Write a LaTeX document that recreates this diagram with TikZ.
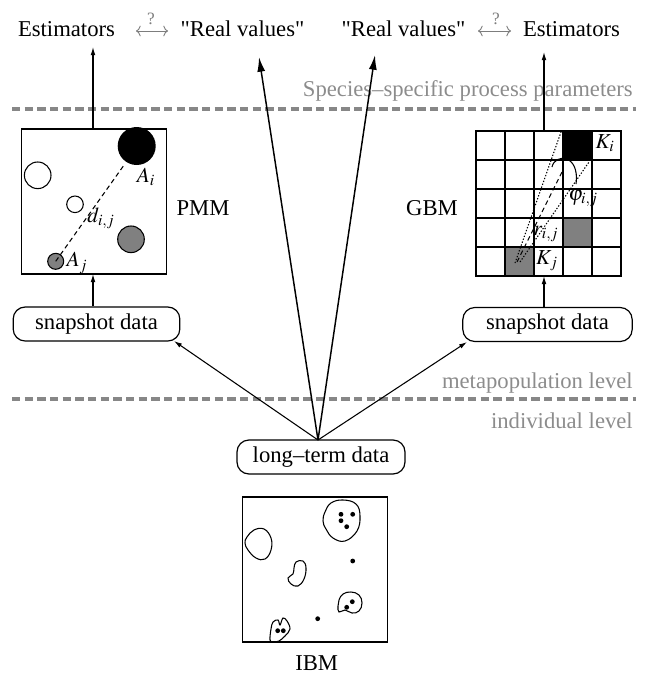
\documentclass[tikz,border=0pt]{standalone}
\usepackage{mathptmx}
\usepackage[no-math]{fontspec}
\setmainfont{Liberation Serif}
\newfontfamily\qfont{Liberation Serif}[Ligatures=ResetAll]
\usetikzlibrary{arrows.meta,calc}
\definecolor{sepgray}{RGB}{135,135,135}
\definecolor{txtgray}{RGB}{140,140,140}
\definecolor{cellgray}{RGB}{128,128,128}
\definecolor{qgray}{RGB}{125,125,125}
\newcommand{\sq}{{\qfont"}}
\begin{document}
\begin{tikzpicture}[x=0.75pt,y=-0.75pt,
  lbl/.style={font=\fontsize{17}{20}\selectfont, inner sep=0pt},
  glbl/.style={lbl, text=txtgray},
  sep/.style={draw=sepgray, line width=2.3pt, dash pattern=on 6.3pt off 3.2pt},
  frame/.style={draw, line width=0.9pt, minimum width=108.75pt, minimum height=108.75pt, inner sep=0pt},
  databox/.style={draw, rounded corners=9pt, line width=0.9pt, minimum height=25.5pt, inner sep=0pt, font=\fontsize{17}{20}\selectfont},
  thinarrow/.style={line width=0.8pt, -{Latex[length=6pt,width=3.5pt]}},
  bigarrow/.style={line width=1.1pt, -{Latex[length=11pt,width=6pt]}},
  qarrow/.style={draw=qgray, line width=0.7pt, {To[length=3.5pt,width=8pt]}-{To[length=3.5pt,width=8pt]}},
  qmark/.style={font=\fontsize{13}{14}\selectfont, text=qgray, inner sep=0pt},
  mlbl/.style={font=\fontsize{16}{18}\selectfont, inner sep=0pt},
  gridline/.style={line width=0.8pt},
  blob/.style={line width=0.8pt},
]
\useasboundingbox (0,0) rectangle (648,675);

% separators
\draw[sep] (12,109) -- (636,109);
\draw[sep] (12,399) -- (636,399);
\node[glbl, anchor=base east] (spp) at (633,96) {Species--specific process parameters};
\node[glbl, anchor=base east] (meta) at (633,388) {metapopulation level};
\node[glbl, anchor=base east] (indiv) at (633,428) {individual level};

% top labels
\node[lbl, anchor=base] (est1) at (66.5,36.7) {Estimators};
\node[lbl, anchor=base] (rv1) at (242.5,36.7) {\sq Real values\sq};
\node[lbl, anchor=base] (rv2) at (403.5,36.7) {\sq Real values\sq};
\node[lbl, anchor=base] (est2) at (571.5,36.7) {Estimators};
\coordinate (qa1) at (136,31); \coordinate (qb1) at (168,31);
\coordinate (qa2) at (478,31); \coordinate (qb2) at (511,31);
\draw[qarrow] (qa1) -- (qb1);
\draw[qarrow] (qa2) -- (qb2);
\node[qmark] (q1) at (151,19) {?};
\node[qmark] (q2) at (496,19) {?};

% PMM
\node[frame] (pmm) at (94,201.5) {};
\fill[black] (136.7,146) circle (19);
\draw[line width=0.8pt] (37.7,175.3) circle (13.3);
\draw[line width=0.8pt] (75,204.3) circle (8.3);
\draw[line width=0.8pt, fill=cellgray] (131,239.3) circle (13.3);
\draw[line width=0.8pt, fill=cellgray] (55.7,261.3) circle (8);
\draw[line width=0.8pt, dash pattern=on 3.5pt off 2.5pt] (55.7,261.3) -- (125,163.7);
\node[mlbl] (ai) at (146,177) {$A_i$};
\node[mlbl] (dij) at (101,218) {$d_{i,j}$};
\node[mlbl] (aj) at (77,263) {$A_j$};
\node[lbl] (pmml) at (203,208) {PMM};

% GBM
\node[frame] (gbm) at (548.5,203.5) {};
\fill[black] (563,131) rectangle (592,160);
\fill[cellgray] (563,218) rectangle (592,247);
\fill[cellgray] (505,247) rectangle (534,276);
\foreach \i in {0,...,5} {
  \draw[gridline] (476+29*\i,131) -- (476+29*\i,276);
  \draw[gridline] (476,131+29*\i) -- (621,131+29*\i);
}
\draw[line width=1.5pt] (505,247) rectangle (534,276);
\draw[line width=0.8pt, dash pattern=on 1pt off 1.3pt] (515,263) -- (561,132);
\draw[line width=0.8pt, dash pattern=on 1pt off 1.3pt] (520,262) -- (589,162);
\draw[line width=0.8pt, dash pattern=on 3.5pt off 2.5pt] (517,262) -- (562,172);
\draw[line width=0.8pt] (552,167) .. controls (555,153) and (580,154) .. (576,184);
\node[mlbl] (ki) at (605,143) {$K_i$};
\node[mlbl] (kj) at (547,261) {$K_j$};
\node[mlbl] (phi) at (583,198) {$\varphi_{i,j}$};
\node[mlbl] (rij) at (546,234) {$r_{i,j}$};
\node[lbl] (gbml) at (432,208) {GBM};

% data boxes
\node[databox, minimum width=125pt] (snap1) at (96.5,324) {snapshot data};
\node[databox, minimum width=127pt] (snap2) at (547.5,324.5) {snapshot data};
\node[databox, minimum width=126pt] (lt) at (321,457) {long--term data};

% IBM
\node[frame] (ibm) at (315,569.5) {};
\node[lbl] (ibml) at (316.7,663) {IBM};
\draw[blob] plot[smooth cycle, tension=0.7] coordinates {(325,512) (331,503) (343,500) (356,504) (360,516) (357,531) (345,541) (333,538) (326,529) (323,521)};
\draw[blob] plot[smooth cycle, tension=0.7] coordinates {(247,537) (254,530) (264,529) (271,538) (271,550) (265,559) (256,558) (248,550) (245,543)};
\draw[blob] plot[smooth cycle, tension=0.7] coordinates {(296,562) (303,561) (306,568) (304,579) (298,586) (291,584) (288,578) (293,574) (294,568)};
\draw[blob] plot[smooth cycle, tension=0.7] coordinates {(339,600) (343,594) (351,592) (359,595) (362,603) (359,611) (352,613) (345,610) (339,612) (338,606)};
\draw[blob] plot[smooth cycle, tension=0.6] coordinates {(270,640) (271,629) (273,622) (278,620) (280,625) (283,618) (287,621) (290,629) (285,636) (279,641) (273,642)};
\foreach \p in {(341,514.3),(352.7,514.3),(341,520.7),(346.7,526.7),(352.7,561),(352.3,601.7),(346.7,607.3),(317.7,618.7),(277.7,630.7),(283.3,630.7)}
  \fill \p circle (2.4);

% connectors
\coordinate (t1) at (93,47);
\coordinate (t2) at (544,52);
\coordinate (gtop) at (544,131);
\coordinate (gbot) at (544,276);
\coordinate (ptop) at (93,129);
\coordinate (pbot) at (93,274);
\coordinate (rv1tip) at (259,57);
\coordinate (rv2tip) at (375,55);
\coordinate (s1tip) at (174,341);
\coordinate (s2tip) at (467,342);
\coordinate (src) at (318,440);
\draw[thinarrow] (ptop) -- (t1);
\draw[thinarrow] (gtop) -- (t2);
\draw[thinarrow] (pbot |- snap1.north) -- (pbot);
\draw[thinarrow] (gbot |- snap2.north) -- (gbot);
\draw[bigarrow] (src) -- (rv1tip);
\draw[bigarrow] (src) -- (rv2tip);
\draw[thinarrow] (src) -- (s1tip);
\draw[thinarrow] (src) -- (s2tip);
\end{tikzpicture}
\end{document}
